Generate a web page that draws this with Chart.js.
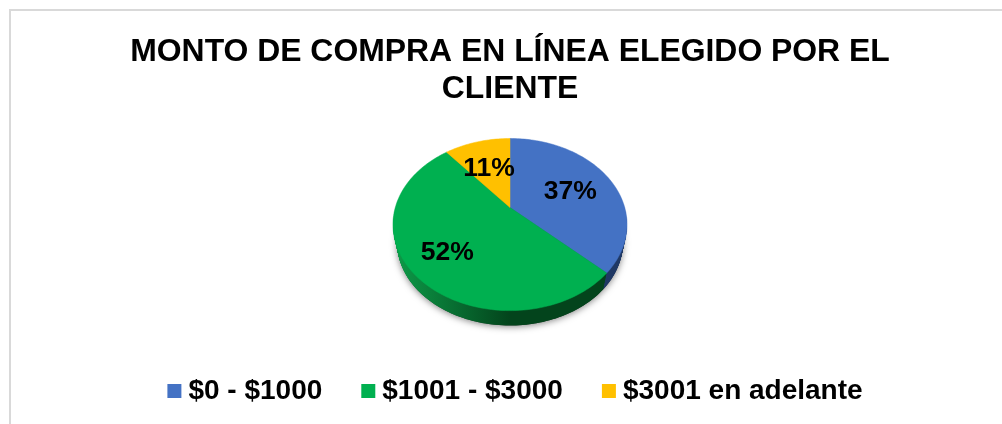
<!DOCTYPE html>
<html><head><meta charset="utf-8">
<script src="https://cdn.jsdelivr.net/npm/chart.js@4"></script>
<style>
html,body{margin:0;padding:0;background:#fff;overflow:hidden;width:1002px;height:424px}
#frame{position:absolute;left:9px;top:9px;width:1000px;height:420px;border:2px solid #d9d9d9;background:#fff}
#box{position:absolute;left:-1px;top:-1px;width:1000px;height:414px}
</style></head><body>
<div id="frame"><div id="box"><canvas id="c"></canvas></div></div>
<script>
const titleLines = ['MONTO DE COMPRA EN LÍNEA ELEGIDO POR EL', 'CLIENTE'];
const categories = ['$0 - $1000', '$1001 - $3000', '$3001 en adelante'];
const values = [37, 52, 11];
const sliceColors = ['#4472c4', '#00b050', '#ffc000'];
const sideColors = [['#2f5597', '#1f3864'], ['#0d9a48', '#03441c'], ['#bf9000', '#7f6000']];
const labelRadii = [0.6, 0.68, 0.6];

const TILT = 0.198, SQUASH = 0.721, DEPTH = 18.5, SHRINK = 0.035, SHIFT_Y = -14, LEGEND_SHIFT = 8.5, LABEL_DY = 3;

function project(el, shiftY, angle, f, d) {
  const r = el.outerRadius * f, u = Math.cos(angle) * r, v = Math.sin(angle) * r;
  const w = 1 - TILT * v / el.outerRadius;
  const k = 1 - SHRINK * d / DEPTH;
  return { x: el.x + k * u / w, y: el.y + shiftY + d + k * SQUASH * v / w };
}
function slicePath(ctx, el, shiftY, d) {
  const steps = Math.max(8, Math.ceil((el.endAngle - el.startAngle) * 40));
  const c = project(el, shiftY, 0, 0, d);
  ctx.beginPath();
  ctx.moveTo(c.x, c.y);
  for (let i = 0; i <= steps; i++) {
    const p = project(el, shiftY, el.startAngle + (el.endAngle - el.startAngle) * i / steps, 1, d);
    ctx.lineTo(p.x, p.y);
  }
  ctx.closePath();
}
const perspectivePie = {
  id: 'perspectivePie',
  afterLayout(chart) {
    chart.legend.left += LEGEND_SHIFT;
    chart.legend.right += LEGEND_SHIFT;
  },
  beforeDatasetsDraw(chart, args, opts) {
    const ctx = chart.ctx, els = chart.getDatasetMeta(0).data, shiftY = opts.shiftY;
    ctx.save();
    ctx.save();
    ctx.shadowColor = 'rgba(0,0,0,0.5)'; ctx.shadowBlur = 7; ctx.shadowOffsetY = 1; ctx.shadowOffsetX = 0;
    ctx.fillStyle = '#555';
    els.forEach(el => { slicePath(ctx, el, shiftY, DEPTH); ctx.fill(); });
    ctx.restore();
    els.forEach((el, i) => {
      const R = el.outerRadius;
      const g = ctx.createLinearGradient(el.x - R, 0, el.x + R, 0);
      g.addColorStop(0, sideColors[i][0]); g.addColorStop(0.5, sideColors[i][1]); g.addColorStop(1, sideColors[i][1]);
      ctx.fillStyle = g;
      for (let d = DEPTH; d >= 1; d -= 0.5) { slicePath(ctx, el, shiftY, d); ctx.fill(); }
    });
    els.forEach((el, i) => {
      ctx.fillStyle = el.options.backgroundColor;
      slicePath(ctx, el, shiftY, 0); ctx.fill();
      ctx.strokeStyle = el.options.backgroundColor; ctx.lineWidth = 0.5; ctx.stroke();
    });
    ctx.fillStyle = '#000'; ctx.textAlign = 'center'; ctx.textBaseline = 'middle';
    ctx.font = 'bold 26.5px "Liberation Sans"';
    els.forEach((el, i) => {
      const p = project(el, shiftY, (el.startAngle + el.endAngle) / 2, labelRadii[i], 0);
      ctx.fillText(values[i] + '%', p.x, p.y + LABEL_DY);
    });
    ctx.restore();
    return false;
  }
};

new Chart(document.getElementById('c'), {
  type: 'pie',
  data: { labels: categories, datasets: [{ data: values, backgroundColor: sliceColors, borderWidth: 0, radius: 114.7 }] },
  options: {
    responsive: true, maintainAspectRatio: false, animation: false,
    layout: { padding: { top: 0, bottom: 9, left: 0, right: 0 } },
    plugins: {
      perspectivePie: { shiftY: SHIFT_Y },
      tooltip: { enabled: false },
      title: { display: true, text: titleLines, color: '#000',
        font: { family: '"Liberation Sans"', weight: 'bold', size: 31.9, lineHeight: 37/31.9 },
        padding: { top: 24, bottom: 4 } },
      legend: { position: 'bottom',
        labels: { color: '#000', font: { family: '"Liberation Sans"', weight: 'bold', size: 28 },
          usePointStyle: true, pointStyle: 'rect', boxWidth: 0.01, boxHeight: 14, padding: 46 } }
    }
  },
  plugins: [perspectivePie]
});
</script></body></html>
